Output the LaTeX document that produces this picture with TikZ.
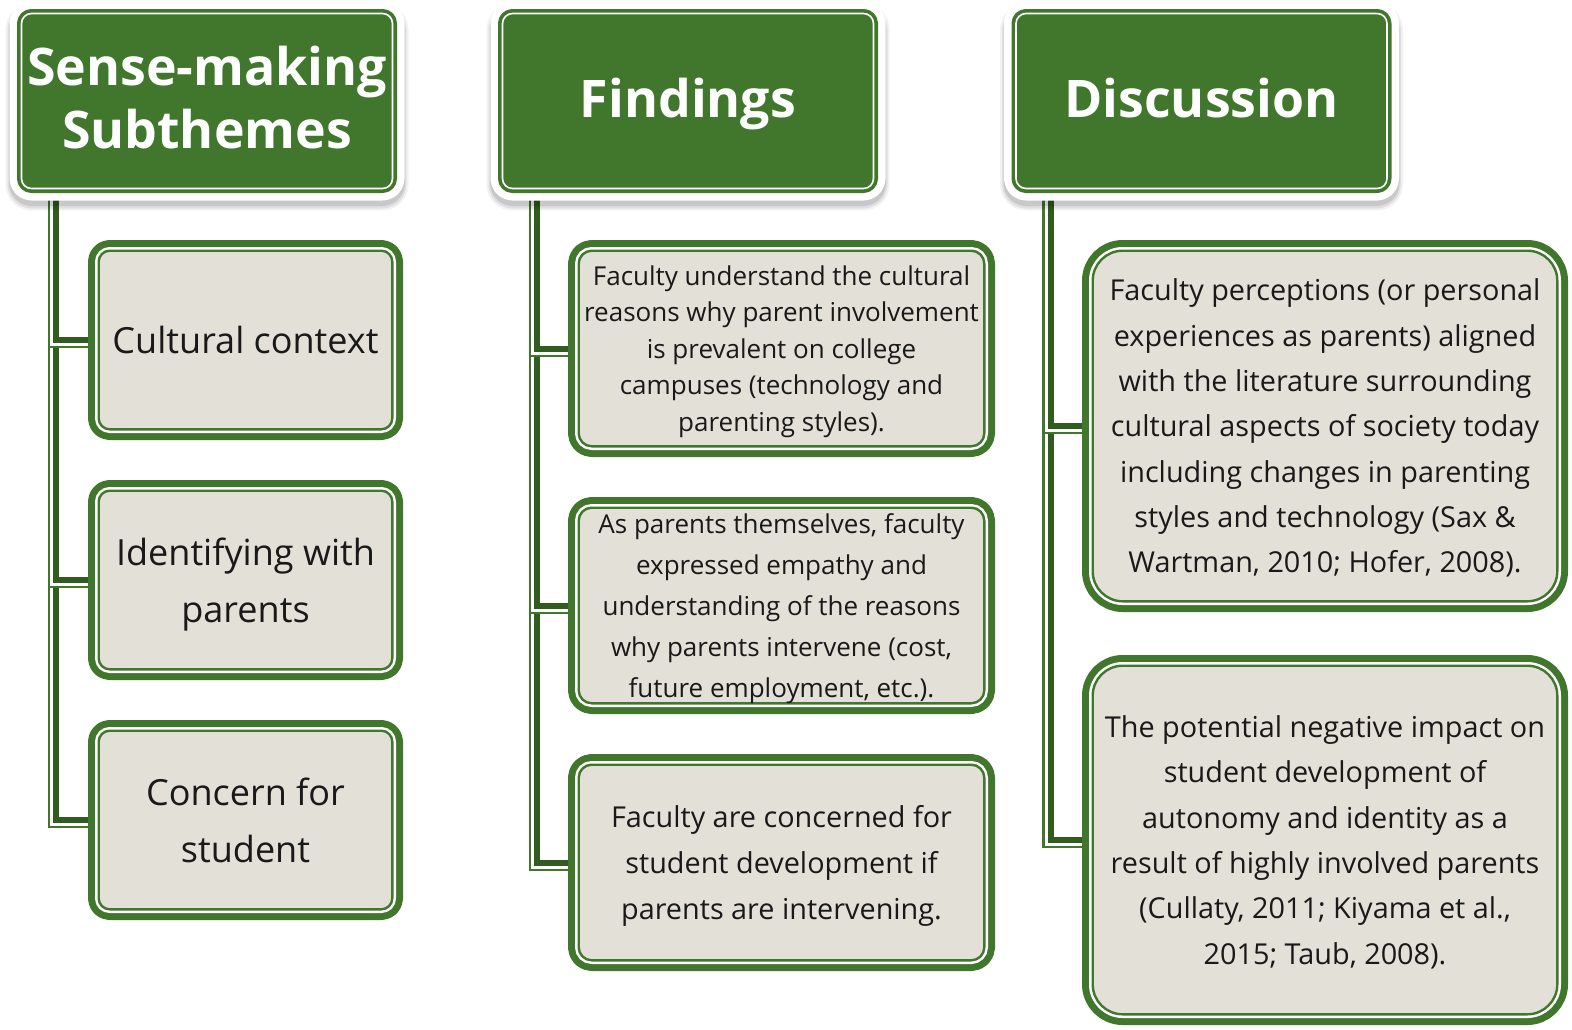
\documentclass[tikz,border=0pt]{standalone}
\usepackage{fontspec}
\setmainfont{Open Sans}
\usetikzlibrary{calc,shadows,backgrounds}
\definecolor{leaf}{RGB}{65,119,45}
\definecolor{leafdark}{RGB}{48,92,32}
\definecolor{paper}{RGB}{227,224,215}
\newlength{\unitpx}\setlength{\unitpx}{0.02cm}

\begin{document}
\begin{tikzpicture}[x=0.02cm,y=-0.02cm,line join=round]
	%%%%%%%%% styles
	\tikzset{
		theme/.style={rounded corners=10\unitpx,fill=leaf,draw=white,line width=1.6\unitpx,
			inner sep=0pt,outer sep=0pt,text=white,align=center,text depth=4pt,
			font=\bfseries\fontsize{29.5}{35.7}\selectfont,
			minimum width=371\unitpx,minimum height=175\unitpx,
			general shadow={draw=black,line width=32\unitpx,opacity=.05,shadow yshift=-6\unitpx},
			general shadow={draw=black,line width=28\unitpx,opacity=.08,shadow yshift=-6\unitpx},
			general shadow={draw=black,line width=25\unitpx,opacity=.10,shadow yshift=-5\unitpx},
			preaction={draw=white,line width=24\unitpx},
			preaction={draw=leaf,line width=9\unitpx}},
		leafbox/.style={rounded corners=#1,fill=paper,draw=leaf,line width=2.4\unitpx,
			inner sep=0pt,outer sep=0pt,text=black!90,align=center,text depth=-3pt,
			preaction={draw=leaf,line width=21.4\unitpx},
			preaction={draw=white,line width=7.4\unitpx}},
		trunk/.style={draw=leafdark,line width=6\unitpx},
		trunk white/.style={draw=white,line width=3\unitpx},
		trunk thin/.style={draw=leaf,line width=2.5\unitpx}
	}
	\useasboundingbox(0,0)rectangle(1572,1029);
	%%%%%%%%% column heads
	\node[theme](sm)at(207,101){Sense-making\\Subthemes};
	\node[theme](fi)at(688,101){Findings};
	\node[theme](di)at(1201.5,101){Discussion};
	%%%%%%%%% sense-making subthemes
	\tikzset{sub/.style={leafbox=11\unitpx,minimum width=293.6\unitpx,minimum height=178.6\unitpx,
			font=\fontsize{20.5}{32.3}\selectfont}}
	\node[sub](cx1)at(245.5,340){Cultural context};
	\node[sub](cx2)at(245.5,580){Identifying with\\parents};
	\node[sub](cx3)at(245.5,820){Concern for\\student};
	%%%%%%%%% findings
	\tikzset{fnd/.style={leafbox=13\unitpx,minimum width=405.6\unitpx,minimum height=195.6\unitpx}}
	\node[fnd,font=\fontsize{14.8}{20.8}\selectfont](fd1)at(781.5,348.5){Faculty understand the cultural\\reasons why parent involvement\\is prevalent on college\\campuses (technology and\\parenting styles).};
	\node[fnd,font=\fontsize{14.8}{23.4}\selectfont](fd2)at(781.5,605.5){As parents themselves, faculty\\expressed empathy and\\understanding of the reasons\\why parents intervene (cost,\\future employment, etc.).};
	\node[fnd,font=\fontsize{16.4}{26.1}\selectfont](fd3)at(781.5,862.5){Faculty are concerned for\\student development if\\parents are intervening.};
	%%%%%%%%% discussion
	\tikzset{dsc/.style={leafbox=30\unitpx,minimum width=464.6\unitpx,font=\fontsize{16.4}{25.8}\selectfont}}
	\node[dsc,minimum height=350.6\unitpx](ds1)at(1325,426){Faculty perceptions (or personal\\experiences as parents) aligned\\with the literature surrounding\\cultural aspects of society today\\including changes in parenting\\styles and technology (Sax \&\\Wartman, 2010; Hofer, 2008).};
	\node[dsc,minimum height=348.6\unitpx](ds2)at(1325,840){The potential negative impact on\\student development of\\autonomy and identity as a\\result of highly involved parents\\(Cullaty, 2011; Kiyama et al.,\\2015; Taub, 2008).};
	%%%%%%%%% connectors
	\begin{scope}[on background layer]
		\foreach \h/\c in {sm/cx3,sm/cx2,sm/cx1,fi/fd3,fi/fd2,fi/fd1,di/ds2,di/ds1}{
			\draw[trunk thin]($(\h.south west)+(27.5,11)$)|-($(\c.west)+(0,7)$);
			\draw[trunk white]($(\h.south west)+(30,11)$)|-($(\c.west)+(0,4.5)$);
			\draw[trunk]($(\h.south west)+(34.5,11)$)|-(\c.west);
		}
	\end{scope}
\end{tikzpicture}
\end{document}
